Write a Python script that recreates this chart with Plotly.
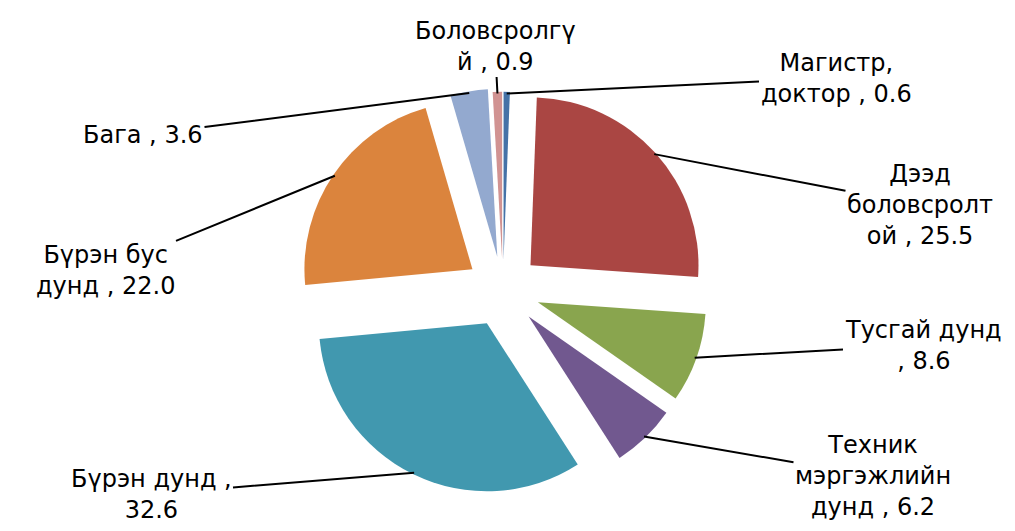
import math
import plotly.graph_objects as go

# ---- data ----
categories = ["Магистр, доктор", "Дээд боловсролтой", "Тусгай дунд",
              "Техник мэргэжлийн дунд", "Бүрэн дунд", "Бүрэн бус дунд",
              "Бага", "Боловсролгүй"]
values = [0.6, 25.5, 8.6, 6.2, 32.6, 22.0, 3.6, 0.9]
label_templates = ["Магистр,<br>доктор , {v}", "Дээд<br>боловсролт<br>ой , {v}",
                   "Тусгай дунд<br>, {v}", "Техник<br>мэргэжлийн<br>дунд , {v}",
                   "Бүрэн дунд ,<br>{v}", "Бүрэн бус<br>дунд , {v}",
                   "Бага , {v}", "Боловсролгү<br>й , {v}"]

# ---- style / layout ----
colors = ["#4572A7", "#AA4643", "#89A54E", "#71588F",
          "#4198AF", "#DB843D", "#93A9CF", "#D19392"]
pulls = [0.18, 0.22, 0.22, 0.22, 0.22, 0.22, 0.20, 0.18]
label_pos = [(828, 70), (912, 197), (915, 337), (865, 468),
             (143, 486), (97, 262), (135, 127), (487, 38)]

W, H = 1015, 531
CX, CY, R = 495, 282, 168
half = R * (1 + max(pulls))
domain = dict(x=[(CX - half) / W, (CX + half) / W],
              y=[1 - (CY + half) / H, 1 - (CY - half) / H])

fig = go.Figure(go.Pie(
    labels=categories, values=values, sort=False, direction="clockwise",
    rotation=0, pull=pulls, textinfo="none", hoverinfo="label+value",
    marker=dict(colors=colors, line=dict(width=0)),
    domain=domain, showlegend=False,
))

total = sum(values)
cum = 0.0
annotations = []
for v, tmpl, p, (lx, ly) in zip(values, label_templates, pulls, label_pos):
    mid = (cum + v / 2) / total * 2 * math.pi
    cum += v
    dx, dy = math.sin(mid), -math.cos(mid)
    dist = p * R + R * 0.99
    tx, ty = CX + dx * dist, CY + dy * dist
    annotations.append(dict(
        x=tx / W, y=1 - ty / H, xref="paper", yref="paper",
        ax=lx - tx, ay=ly - ty, axref="pixel", ayref="pixel",
        text=tmpl.format(v=f"{v:.1f}"), showarrow=True, arrowhead=0,
        arrowwidth=2, arrowcolor="black", standoff=0, align="center",
        font=dict(size=24, color="black", family="DejaVu Sans"),
    ))

fig.update_layout(
    width=W, height=H, autosize=False,
    margin=dict(l=0, r=0, t=0, b=0),
    paper_bgcolor="white", plot_bgcolor="white",
    font=dict(family="DejaVu Sans", size=24, color="black"),
    annotations=annotations,
)

fig.write_html("out.html")
